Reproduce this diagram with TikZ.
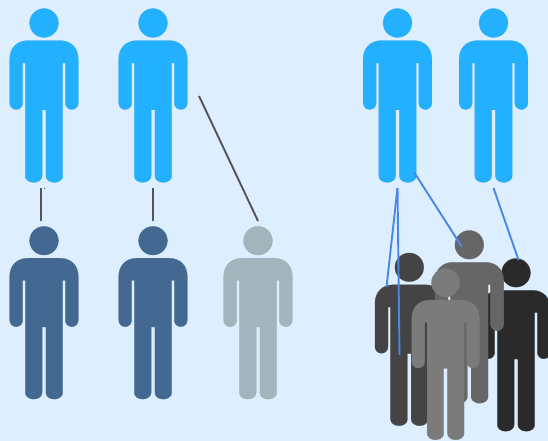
\documentclass[tikz,border=0pt]{standalone}
\tikzset{
  x=1pt,y=-1pt,
  pers/.style={fill=#1,draw=#1!85!gray,line width=0.3pt},
  pers/.default=blue,
  wire/.style={line width=1.9pt,draw=gline},
  bluewire/.style={line width=1.9pt,draw=bline},
  speck/.style={line width=0.7pt,draw=gline},
  pics/person/.style={code={
    \path[pers=#1] (0,0) circle[radius=14.4];
    \path[pers=#1]
      (-16,17.6) -- (16,17.6)
      .. controls (27,17.6) and (34.3,25) .. (34.3,36)
      -- (34.3,80) arc[start angle=0,end angle=180,radius=6.5] -- (21.3,40) -- (18.7,40)
      -- (18.7,153) arc[start angle=0,end angle=180,x radius=8.4,y radius=6.4]
      -- (1.9,86.8) -- (-1.9,86.8) -- (-1.9,153)
      arc[start angle=0,end angle=180,x radius=8.4,y radius=6.4]
      -- (-18.7,40) -- (-21.3,40) -- (-21.3,80)
      arc[start angle=0,end angle=180,radius=6.5] -- (-34.3,36)
      .. controls (-34.3,25) and (-27,17.6) .. (-16,17.6) -- cycle;
  }}
}
\definecolor{bgc}{HTML}{DDEEFF}
\definecolor{pblue}{HTML}{22B0FF}
\definecolor{pnavy}{HTML}{436992}
\definecolor{ppale}{HTML}{A3B5BC}
\definecolor{pa}{HTML}{444444}
\definecolor{pb}{HTML}{666666}
\definecolor{pc}{HTML}{2A2A2A}
\definecolor{pd}{HTML}{7B7B7B}
\definecolor{gline}{HTML}{555555}
\definecolor{bline}{HTML}{4A86E8}
\begin{document}
\begin{tikzpicture}
\path[fill=bgc] (0,0) rectangle (548,441);
\useasboundingbox (0,0) rectangle (548,441);
\pic at (44,23) {person=pblue};
\pic at (153,23) {person=pblue};
\pic at (397.5,23) {person=pblue};
\pic at (493.5,23) {person=pblue};
\pic[yscale=0.994] at (44,240.7) {person=pnavy};
\pic[yscale=0.994] at (153,240.7) {person=pnavy};
\pic[yscale=0.994] at (258,240.7) {person=ppale};
\pic[yscale=0.994] at (516,272.8) {person=pc};
\pic[yscale=0.994] at (409.3,267.3) {person=pa};
\pic[yscale=0.994] at (469.3,244.8) {person=pb};
\pic[scale=0.985] at (445.6,282.8) {person=pd};
\coordinate (a1) at (41,188); \coordinate (a2) at (41,221);
\coordinate (s1) at (44,187.6); \coordinate (s2) at (44,188.6);
\coordinate (b1) at (153,188); \coordinate (b2) at (153,221);
\coordinate (c1) at (199,96); \coordinate (c2) at (258,221);
\coordinate (d1) at (397.5,188); \coordinate (d2) at (386.5,287); \coordinate (d3) at (399.5,355);
\coordinate (e1) at (414,172); \coordinate (e2) at (462,247);
\coordinate (f1) at (493.5,188); \coordinate (f2) at (518.5,260);
\draw[wire] (a1) -- (a2);
\draw[speck] (s1) -- (s2);
\draw[wire] (b1) -- (b2);
\draw[wire] (c1) -- (c2);
\draw[bluewire] (d1) -- (d2);
\draw[bluewire] (d1) -- (d3);
\draw[bluewire] (e1) -- (e2);
\draw[bluewire] (f1) -- (f2);
\end{tikzpicture}
\end{document}
